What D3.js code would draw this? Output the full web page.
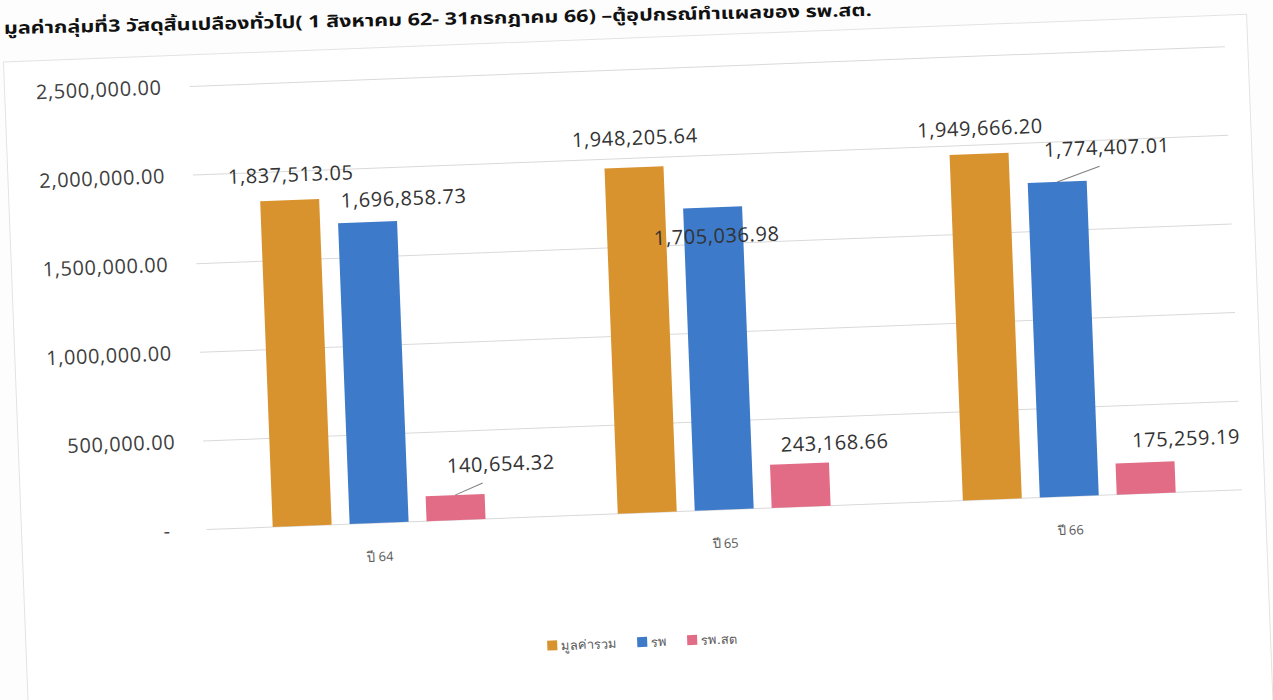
<!DOCTYPE html>
<html>
<head>
<meta charset="utf-8">
<script src="https://cdn.jsdelivr.net/npm/d3@7"></script>
<style>
  html, body { margin: 0; padding: 0; background: #ffffff; }
  svg { display: block; }
  text { font-family: "Open Sans", "Noto Sans", "Noto Sans Thai", Tahoma, sans-serif; }
</style>
</head>
<body>
<svg id="chart" width="1273" height="700"></svg>
<script>
// ---- data ----
const titleText = "มูลค่ากลุ่มที่3 วัสดุสิ้นเปลืองทั่วไป( 1 สิงหาคม 62- 31กรกฎาคม 66) –ตู้อุปกรณ์ทำแผลของ รพ.สต.";
const categories = ["ปี 64", "ปี 65", "ปี 66"];
const seriesNames = ["มูลค่ารวม", "รพ", "รพ.สต"];
const totalValues = [1837513.05, 1948205.64, 1949666.20];
const hospitalValues = [1696858.73, 1705036.98, 1774407.01];
const subdistrictValues = [140654.32, 243168.66, 175259.19];
const yTicks = [0, 500000, 1000000, 1500000, 2000000, 2500000];

// ---- layout / style ----
const colors = ["#D8922E", "#3D7AC9", "#E26B86"];
const W = 1273, H = 700;
const plot = { left: 200, right: 1236, top: 69.5, bottom: 513 };
// label nudges [dx, dy] relative to bar top-centre, per series then per category
const labelNudge = [
  [[2, -26], [2, -30], [2, -26]],
  [[37, -23], [3, 28], [51, -33]],
  [[47, -30], [36, -20], [42, -23]]
];
// leader lines [x2, y2] relative to bar top-centre (null = none)
const leaders = [
  [null, null, null],
  [null, null, [43, -14]],
  [[28, -11], null, null]
];

const seriesValues = [totalValues, hospitalValues, subdistrictValues];
const fmt = d3.format(",.2f");

const svg = d3.select("#chart");
svg.append("rect").attr("width", W).attr("height", H).attr("fill", "#fdfdfd");

// title (slightly tilted like the photographed page)
svg.append("text")
  .attr("transform", "translate(4,34) rotate(-1.2)")
  .attr("font-size", 17)
  .attr("font-weight", "bold")
  .attr("fill", "#111")
  .attr("textLength", 868)
  .attr("lengthAdjust", "spacingAndGlyphs")
  .text(titleText);

const g = svg.append("g").attr("transform", "rotate(-2.2, 636, 350)");

// chart frame
g.append("rect")
  .attr("x", 15).attr("y", 38).attr("width", 1244).attr("height", 700)
  .attr("fill", "#ffffff").attr("stroke", "#e3e3e3").attr("stroke-width", 1);

const y = d3.scaleLinear().domain([0, 2500000]).range([plot.bottom, plot.top]);
const x0 = d3.scaleBand().domain(categories).range([plot.left, plot.right]).padding(0);
const x1 = d3.scaleBand().domain(seriesNames).range([-106.5, 106.5]).paddingInner(18 / 77).paddingOuter(0);

// gridlines
g.append("g").selectAll("line").data(yTicks).join("line")
  .attr("x1", plot.left).attr("x2", plot.right)
  .attr("y1", d => y(d)).attr("y2", d => y(d))
  .attr("stroke", "#d9d9d9").attr("stroke-width", 1);

// y axis labels via d3 axis
const yAxis = d3.axisLeft(y).tickValues(yTicks).tickSize(0).tickPadding(0)
  .tickFormat(d => d === 0 ? "-" : fmt(d));
const yAxisG = g.append("g").attr("transform", `translate(172,0)`).call(yAxis);
yAxisG.select(".domain").remove();
yAxisG.selectAll("text")
  .attr("font-size", 20).attr("letter-spacing", "0.6px")
  .attr("fill", "#404040")
  .style("font-family", '"Open Sans", sans-serif')
  .attr("dx", d => d === 0 ? -8 : 0);

// x axis labels
const xAxis = d3.axisBottom(x0).tickSize(0).tickPadding(0);
const xAxisG = g.append("g").attr("transform", `translate(0,${plot.bottom + 29})`).call(xAxis);
xAxisG.select(".domain").remove();
xAxisG.selectAll("text")
  .attr("font-size", 13).attr("fill", "#595959")
  .style("font-family", '"Open Sans", "Noto Sans", sans-serif');

// bars
const series = seriesNames.map((name, si) => ({ name, si, values: seriesValues[si] }));
const sg = g.append("g").selectAll("g").data(series).join("g").attr("fill", d => colors[d.si]);
sg.selectAll("rect").data(d => d.values.map((v, ci) => ({ v, ci, si: d.si, name: d.name })))
  .join("rect")
  .attr("x", d => x0(categories[d.ci]) + x0.bandwidth() / 2 + x1(d.name))
  .attr("y", d => y(d.v))
  .attr("width", x1.bandwidth())
  .attr("height", d => y(0) - y(d.v));

// leader lines + data labels
const allPts = series.flatMap(s => s.values.map((v, ci) => ({
  v, ci, si: s.si,
  cx: x0(categories[ci]) + x0.bandwidth() / 2 + x1(s.name) + x1.bandwidth() / 2,
  top: y(v)
})));
g.append("g").selectAll("line").data(allPts.filter(d => leaders[d.si][d.ci])).join("line")
  .attr("x1", d => d.cx).attr("y1", d => d.top)
  .attr("x2", d => d.cx + leaders[d.si][d.ci][0])
  .attr("y2", d => d.top + leaders[d.si][d.ci][1])
  .attr("stroke", "#7f7f7f").attr("stroke-width", 1);
g.append("g").selectAll("text").data(allPts).join("text")
  .attr("x", d => d.cx + labelNudge[d.si][d.ci][0])
  .attr("y", d => d.top + labelNudge[d.si][d.ci][1])
  .attr("text-anchor", "middle")
  .attr("dominant-baseline", "central")
  .attr("font-size", 20).attr("letter-spacing", "0.6px")
  .attr("fill", "#333333")
  .text(d => fmt(d.v));

// legend
const lg = g.append("g").attr("transform", "translate(536,642)");
let lx = 0;
seriesNames.forEach((name, i) => {
  const item = lg.append("g").attr("transform", `translate(${lx},0)`);
  item.append("rect").attr("x", 0).attr("y", -5).attr("width", 10).attr("height", 10).attr("fill", colors[i]);
  const t = item.append("text").attr("x", 14).attr("y", 0).attr("dominant-baseline", "central")
    .attr("font-size", 13).attr("fill", "#595959")
    .style("font-family", '"Open Sans", "Noto Sans", sans-serif')
    .text(name);
  lx += 14 + t.node().getComputedTextLength() + 20;
});
</script>
</body>
</html>
